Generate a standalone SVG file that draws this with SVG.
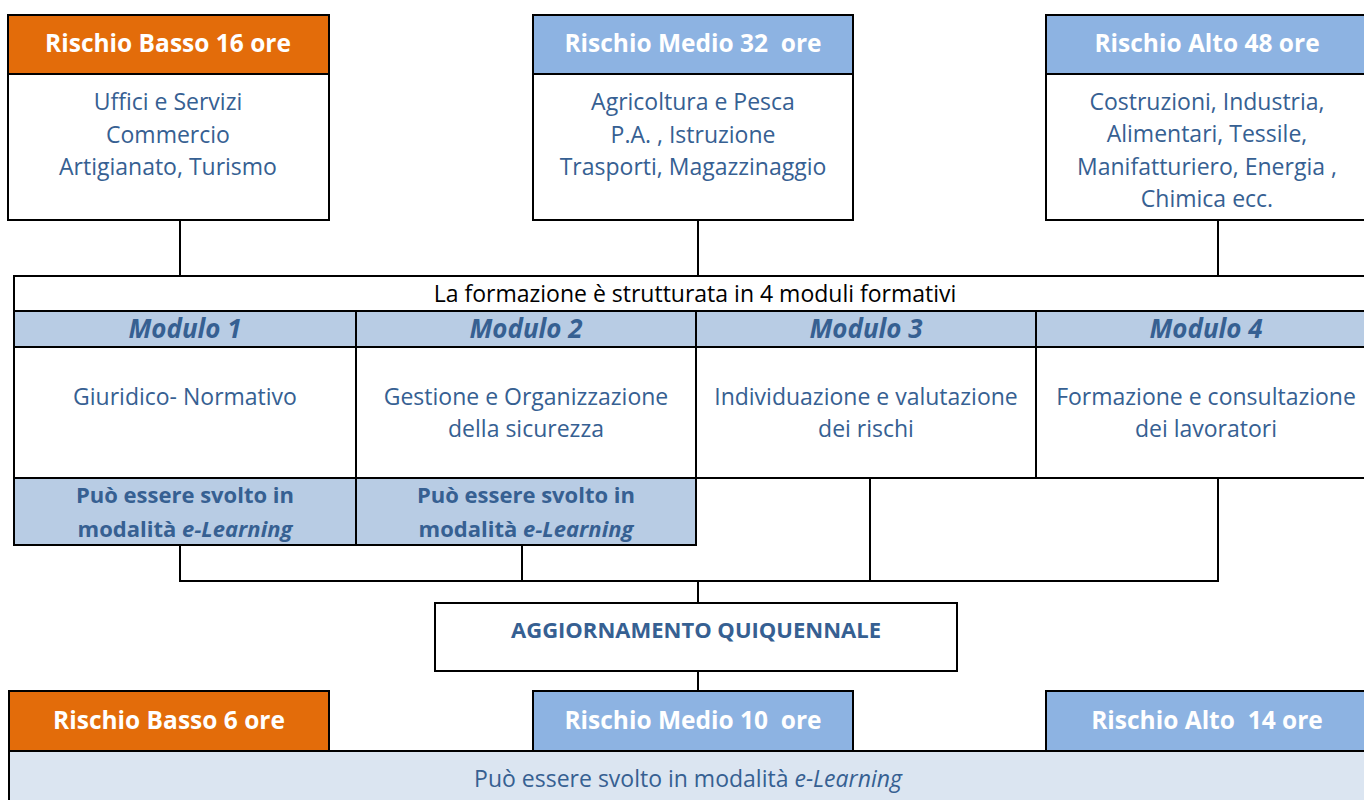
<svg xmlns="http://www.w3.org/2000/svg" width="1364" height="800" viewBox="0 0 1364 800">
<style>
.box{stroke:#000;stroke-width:2;fill:#fff}
.or{fill:#e36c0a;stroke:#000;stroke-width:2}
.bl{fill:#8db3e2;stroke:#000;stroke-width:2}
.lb{fill:#b8cce4;stroke:#000;stroke-width:2}
.pl{fill:#dbe5f1;stroke:#000;stroke-width:2}
text{font-family:"Open Sans",Lato,"Liberation Sans",sans-serif;text-anchor:middle}
.hd{font-weight:bold;font-size:24.5px;fill:#fff}
.tx{font-size:23px;fill:#366092}
.bd{font-weight:bold;font-size:22px;fill:#366092}
.md{font-weight:bold;font-style:italic;font-size:26px;fill:#366092}
.ti{font-size:23px;fill:#000}
.cn{stroke:#000;stroke-width:2;fill:none}
</style>
<rect width="1364" height="800" fill="#fff"/>
<g id="connectors">
<line class="cn" x1="180" y1="220" x2="180" y2="276"/>
<line class="cn" x1="698" y1="220" x2="698" y2="276"/>
<line class="cn" x1="1218" y1="220" x2="1218" y2="276"/>
<line class="cn" x1="180" y1="545" x2="180" y2="581"/>
<line class="cn" x1="522" y1="545" x2="522" y2="581"/>
<line class="cn" x1="870" y1="473" x2="870" y2="581"/>
<line class="cn" x1="1218" y1="473" x2="1218" y2="581"/>
<line class="cn" x1="179" y1="581" x2="1219" y2="581"/>
<line class="cn" x1="698" y1="581" x2="698" y2="603"/>
<line class="cn" x1="698" y1="671" x2="698" y2="691"/>
</g>
<g id="basso-top">
<rect class="box" x="8" y="15" width="321" height="205"/>
<rect class="or" x="8" y="15" width="321" height="59"/>
<text class="hd" x="168" y="52">Rischio Basso 16 ore</text>
<text class="tx" x="168" y="110">Uffici e Servizi</text>
<text class="tx" x="168" y="143">Commercio</text>
<text class="tx" x="168" y="175">Artigianato, Turismo</text>
</g>
<g id="medio-top">
<rect class="box" x="533" y="15" width="320" height="205"/>
<rect class="bl" x="533" y="15" width="320" height="59"/>
<text class="hd" x="693" y="52" xml:space="preserve">Rischio Medio 32  ore</text>
<text class="tx" x="693" y="110">Agricoltura e Pesca</text>
<text class="tx" x="693" y="143">P.A. , Istruzione</text>
<text class="tx" x="693" y="175">Trasporti, Magazzinaggio</text>
</g>
<g id="alto-top">
<rect class="box" x="1046" y="15" width="322" height="205"/>
<rect class="bl" x="1046" y="15" width="322" height="59"/>
<text class="hd" x="1207" y="52">Rischio Alto 48 ore</text>
<text class="tx" x="1207" y="110">Costruzioni, Industria,</text>
<text class="tx" x="1207" y="142">Alimentari, Tessile,</text>
<text class="tx" x="1207" y="175">Manifatturiero, Energia ,</text>
<text class="tx" x="1207" y="207">Chimica ecc.</text>
</g>
<g id="moduli">
<rect class="box" x="14" y="276" width="1364" height="202"/>
<text class="ti" x="695" y="302">La formazione è strutturata in 4 moduli formativi</text>
<rect class="lb" x="14" y="311" width="342" height="36"/>
<rect class="lb" x="356" y="311" width="340" height="36"/>
<rect class="lb" x="696" y="311" width="340" height="36"/>
<rect class="lb" x="1036" y="311" width="342" height="36"/>
<line class="cn" x1="356" y1="347" x2="356" y2="478"/>
<line class="cn" x1="696" y1="347" x2="696" y2="478"/>
<line class="cn" x1="1036" y1="347" x2="1036" y2="478"/>
<text class="md" x="185" y="338">Modulo 1</text>
<text class="md" x="526" y="338">Modulo 2</text>
<text class="md" x="866" y="338">Modulo 3</text>
<text class="md" x="1206" y="338">Modulo 4</text>
<text class="tx" x="185" y="405">Giuridico- Normativo</text>
<text class="tx" x="526" y="405">Gestione e Organizzazione</text>
<text class="tx" x="526" y="437">della sicurezza</text>
<text class="tx" x="866" y="405">Individuazione e valutazione</text>
<text class="tx" x="866" y="437">dei rischi</text>
<text class="tx" x="1206" y="405">Formazione e consultazione</text>
<text class="tx" x="1206" y="437">dei lavoratori</text>
<rect class="lb" x="14" y="478" width="342" height="67"/>
<rect class="lb" x="356" y="478" width="340" height="67"/>
<text class="bd" x="185" y="503">Può essere svolto in</text>
<text class="bd" x="185" y="537">modalità <tspan font-style="italic">e-Learning</tspan></text>
<text class="bd" x="526" y="503">Può essere svolto in</text>
<text class="bd" x="526" y="537">modalità <tspan font-style="italic">e-Learning</tspan></text>
</g>
<g id="aggiornamento">
<rect class="box" x="435" y="603" width="522" height="68"/>
<text class="bd" x="696" y="638" font-size="20.5">AGGIORNAMENTO QUIQUENNALE</text>
</g>
<g id="elearning-panel">
<rect class="pl" x="9" y="751" width="1362" height="60"/>
<text class="tx" x="688" y="787">Può essere svolto in modalità <tspan font-style="italic">e-Learning</tspan></text>
</g>
<g id="basso-bottom">
<rect class="or" x="9" y="691" width="320" height="60"/>
<text class="hd" x="169" y="729">Rischio Basso 6 ore</text>
</g>
<g id="medio-bottom">
<rect class="bl" x="533" y="691" width="320" height="60"/>
<text class="hd" x="693" y="729" xml:space="preserve">Rischio Medio 10  ore</text>
</g>
<g id="alto-bottom">
<rect class="bl" x="1046" y="691" width="322" height="60"/>
<text class="hd" x="1207" y="729" xml:space="preserve">Rischio Alto  14 ore</text>
</g>
</svg>
